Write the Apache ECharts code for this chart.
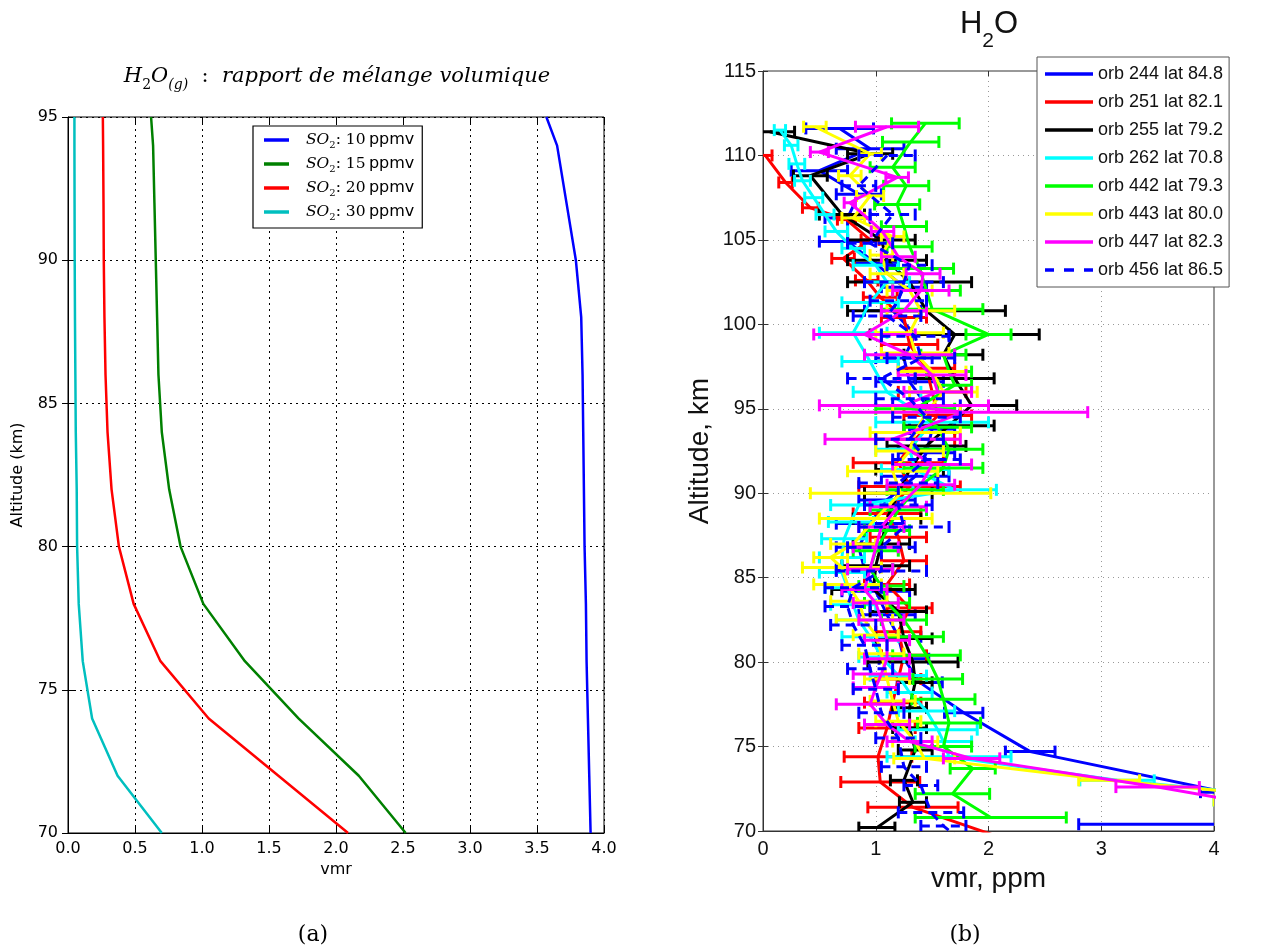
<!DOCTYPE html>
<html><head><meta charset="utf-8">
<script src="https://cdn.jsdelivr.net/npm/echarts@6/dist/echarts.min.js"></script>
<style>html,body{margin:0;padding:0;background:#fff}#c{width:1268px;height:949px}</style>
</head><body><div id="c"></div>
<script>
// ---------- Panel (a): model profiles ----------
const altLeft = [70, 72, 74, 76, 78, 80, 82, 84, 86, 88, 90, 92, 94, 95];
const so2_10 = [3.90, 3.89, 3.88, 3.87, 3.865, 3.855, 3.85, 3.845, 3.84, 3.83, 3.79, 3.72, 3.65, 3.57];
const so2_15 = [2.52, 2.17, 1.72, 1.32, 1.01, 0.84, 0.755, 0.70, 0.675, 0.665, 0.655, 0.645, 0.635, 0.62];
const so2_20 = [2.09, 1.57, 1.05, 0.69, 0.49, 0.38, 0.325, 0.295, 0.28, 0.272, 0.267, 0.265, 0.262, 0.26];
const so2_30 = [0.70, 0.37, 0.18, 0.11, 0.08, 0.068, 0.065, 0.058, 0.055, 0.052, 0.05, 0.049, 0.048, 0.048];
const leftNames = ['SO2: 10 ppmv', 'SO2: 15 ppmv', 'SO2: 20 ppmv', 'SO2: 30 ppmv'];
const leftColors = ['#0000ff', '#008000', '#ff0000', '#00bfbf'];
const leftX = [0, 0.5, 1.0, 1.5, 2.0, 2.5, 3.0, 3.5, 4.0];
const leftY = [70, 75, 80, 85, 90, 95];

// ---------- Panel (b): SOIR profiles ----------
const alt244 = [70.4, 72.3, 74.7, 77.0, 78.8, 80.2, 81.5, 82.8, 84.2, 85.5, 86.8, 88.2, 89.6, 91.0, 92.4, 93.8, 95.2, 96.6, 98.0, 99.4, 100.8, 102.2, 103.6, 104.9, 106.3, 107.7, 109.1, 110.4, 111.6];
const vmr244 = [4.3, 4.1, 2.37, 1.78, 1.39, 1.25, 1.2, 1.1, 1.0, 0.9, 0.85, 0.95, 1.1, 1.35, 1.45, 1.5, 1.45, 1.3, 1.25, 1.35, 1.15, 1.25, 1.0, 0.75, 0.75, 0.85, 0.5, 0.95, 0.68];
const err244 = [1.5, 0.22, 0.22, 0.17, 0.2, 0.22, 0.2, 0.25, 0.3, 0.25, 0.2, 0.3, 0.25, 0.3, 0.25, 0.2, 0.3, 0.3, 0.25, 0.3, 0.25, 0.2, 0.2, 0.25, 0.2, 0.2, 0.25, 0.3, 0.3];

const alt251 = [69.4, 71.4, 72.9, 74.4, 76.1, 77.6, 79.0, 80.4, 81.8, 83.2, 84.6, 86.0, 87.4, 88.8, 90.4, 91.8, 93.2, 94.6, 96.0, 97.4, 98.8, 100.4, 101.6, 102.6, 103.9, 105.0, 106.2, 106.9, 108.4, 110.0];
const vmr251 = [2.2, 1.33, 1.04, 1.02, 1.1, 1.15, 1.2, 1.25, 1.2, 1.3, 1.1, 1.25, 1.2, 1.1, 1.3, 1.2, 1.35, 1.55, 1.5, 1.45, 1.3, 1.25, 1.04, 0.92, 0.71, 0.95, 0.74, 0.42, 0.2, 0.02];
const err251 = [0.3, 0.4, 0.35, 0.3, 0.25, 0.25, 0.2, 0.2, 0.2, 0.2, 0.2, 0.2, 0.25, 0.3, 0.45, 0.4, 0.35, 0.3, 0.3, 0.25, 0.25, 0.2, 0.15, 0.1, 0.1, 0.08, 0.08, 0.07, 0.06, 0.06];

const alt255 = [70.2, 71.7, 73.0, 74.8, 76.1, 77.3, 78.8, 80.0, 81.4, 83.0, 84.3, 85.7, 87.0, 88.5, 90.0, 91.4, 92.8, 94.0, 95.2, 96.8, 98.2, 99.4, 100.8, 102.5, 103.8, 105.0, 106.5, 108.8, 110.1, 111.4];
const vmr255 = [1.01, 1.33, 1.25, 1.35, 1.3, 1.3, 1.35, 1.33, 1.25, 1.2, 0.98, 1.0, 1.05, 1.1, 1.2, 1.3, 1.45, 1.65, 1.85, 1.7, 1.6, 1.7, 1.45, 1.3, 1.1, 1.05, 0.7, 0.42, 0.95, 0.06];
const err255 = [0.16, 0.12, 0.12, 0.15, 0.15, 0.15, 0.15, 0.4, 0.25, 0.25, 0.37, 0.3, 0.25, 0.3, 0.3, 0.3, 0.35, 0.4, 0.4, 0.35, 0.35, 0.75, 0.7, 0.55, 0.35, 0.3, 0.2, 0.15, 0.2, 0.22];

const alt262 = [71.8, 73.0, 74.4, 75.3, 76.0, 77.1, 78.2, 79.2, 80.3, 81.5, 82.5, 83.4, 84.4, 85.3, 86.2, 87.3, 88.3, 89.3, 90.2, 91.4, 92.6, 94.2, 96.0, 97.8, 99.5, 101.3, 102.5, 103.5, 104.5, 105.5, 106.5, 107.5, 108.5, 109.5, 110.6, 111.5];
const vmr262 = [5.0, 3.14, 1.65, 1.6, 1.55, 1.45, 1.3, 1.2, 1.05, 0.95, 0.85, 0.8, 0.75, 0.7, 0.7, 0.72, 0.78, 0.85, 1.7, 1.35, 1.3, 1.5, 1.1, 0.95, 0.8, 0.95, 1.1, 1.0, 0.8, 0.65, 0.55, 0.45, 0.35, 0.3, 0.25, 0.15];
const err262 = [1.0, 0.33, 0.55, 0.25, 0.35, 0.25, 0.2, 0.25, 0.2, 0.25, 0.2, 0.2, 0.2, 0.2, 0.2, 0.2, 0.2, 0.25, 0.37, 0.3, 0.3, 0.5, 0.3, 0.25, 0.3, 0.25, 0.2, 0.2, 0.1, 0.1, 0.08, 0.08, 0.07, 0.07, 0.06, 0.05];

const alt442 = [70.8, 72.2, 73.7, 75.0, 76.4, 77.8, 79.0, 80.4, 81.5, 82.5, 83.5, 84.5, 85.5, 86.6, 87.8, 89.0, 90.2, 91.5, 92.6, 93.9, 95.0, 96.4, 97.2, 98.2, 99.4, 100.9, 102.0, 103.3, 104.6, 105.8, 107.1, 108.2, 109.3, 110.8, 111.9];
const vmr442 = [2.02, 1.68, 1.86, 1.6, 1.65, 1.6, 1.55, 1.45, 1.35, 1.25, 1.1, 1.05, 0.95, 1.0, 1.1, 1.2, 1.35, 1.6, 1.65, 1.55, 1.35, 1.7, 1.65, 1.6, 2.0, 1.5, 1.45, 1.39, 1.3, 1.25, 1.19, 1.27, 1.15, 1.31, 1.44];
const err442 = [0.67, 0.33, 0.2, 0.25, 0.28, 0.28, 0.22, 0.3, 0.25, 0.2, 0.2, 0.2, 0.2, 0.2, 0.2, 0.25, 0.25, 0.35, 0.3, 0.3, 0.35, 0.15, 0.2, 0.2, 0.2, 0.45, 0.3, 0.3, 0.2, 0.2, 0.2, 0.2, 0.2, 0.25, 0.3];

const alt443 = [71.8, 73.0, 74.3, 75.3, 76.5, 77.7, 79.0, 80.5, 81.6, 82.5, 83.6, 84.6, 85.6, 86.2, 87.0, 88.5, 90.0, 91.3, 92.5, 93.6, 94.8, 96.0, 97.2, 98.3, 99.5, 100.8, 102.0, 103.0, 104.1, 105.2, 106.3, 107.6, 108.8, 110.1, 111.7];
const vmr443 = [5.0, 3.07, 1.43, 1.35, 1.2, 1.15, 1.1, 1.05, 1.0, 0.9, 0.85, 0.75, 0.7, 0.6, 0.8, 1.0, 1.22, 1.15, 1.3, 1.35, 1.45, 1.6, 1.5, 1.35, 1.3, 1.4, 1.3, 1.1, 1.05, 1.15, 0.8, 0.95, 0.77, 0.95, 0.46];
const err443 = [1.0, 0.27, 0.27, 0.2, 0.2, 0.2, 0.2, 0.2, 0.2, 0.25, 0.25, 0.3, 0.35, 0.15, 0.2, 0.5, 0.8, 0.4, 0.3, 0.4, 0.3, 0.3, 0.3, 0.3, 0.3, 0.3, 0.2, 0.15, 0.1, 0.1, 0.1, 0.12, 0.1, 0.1, 0.1];

const alt447 = [71.2, 72.6, 74.3, 75.3, 76.3, 77.5, 78.5, 79.3, 80.2, 81.3, 82.5, 83.5, 84.3, 85.5, 86.8, 88.0, 89.2, 90.5, 91.7, 93.2, 94.8, 95.2, 96.0, 97.0, 98.2, 99.4, 100.8, 102.0, 103.0, 104.0, 105.5, 107.2, 108.7, 110.2, 111.7];
const vmr447 = [4.7, 3.5, 1.85, 1.3, 1.1, 0.95, 1.0, 1.05, 1.1, 1.1, 1.05, 1.0, 0.9, 0.95, 1.0, 1.05, 1.2, 1.4, 1.5, 1.15, 1.78, 1.25, 1.55, 1.5, 1.3, 0.9, 1.25, 1.4, 1.42, 1.2, 1.06, 0.77, 1.19, 0.5, 1.1];
const err447 = [0.5, 0.37, 0.25, 0.2, 0.2, 0.3, 0.2, 0.25, 0.2, 0.2, 0.2, 0.2, 0.2, 0.2, 0.2, 0.2, 0.25, 0.3, 0.35, 0.6, 1.1, 0.75, 0.3, 0.3, 0.4, 0.45, 0.2, 0.25, 0.15, 0.15, 0.1, 0.05, 0.1, 0.08, 0.28];

const alt456 = [69.5, 70.3, 71.1, 72.7, 73.8, 75.5, 77.0, 78.4, 79.6, 81.0, 82.2, 83.3, 84.4, 85.4, 86.8, 88.0, 89.3, 90.6, 92.0, 93.2, 94.5, 95.6, 96.8, 98.0, 99.3, 100.5, 101.4, 102.5, 103.5, 104.8, 106.5, 108.2, 110.0];
const vmr456 = [1.75, 1.6, 1.49, 1.4, 1.25, 1.2, 1.05, 1.0, 0.95, 0.9, 0.8, 0.75, 0.8, 1.05, 1.05, 1.25, 1.2, 1.2, 1.45, 1.3, 1.45, 1.3, 1.05, 1.4, 1.35, 1.1, 1.2, 1.25, 1.3, 0.95, 1.15, 0.85, 1.1];
const err456 = [0.2, 0.2, 0.29, 0.15, 0.2, 0.2, 0.2, 0.2, 0.2, 0.2, 0.2, 0.2, 0.25, 0.4, 0.3, 0.4, 0.3, 0.35, 0.3, 0.3, 0.3, 0.3, 0.3, 0.3, 0.3, 0.3, 0.25, 0.35, 0.2, 0.2, 0.2, 0.15, 0.25];

const orbNames = ['orb 244 lat 84.8', 'orb 251 lat 82.1', 'orb 255 lat 79.2', 'orb 262 lat 70.8', 'orb 442 lat 79.3', 'orb 443 lat 80.0', 'orb 447 lat 82.3', 'orb 456 lat 86.5'];
const orbColors = ['#0000ff', '#ff0000', '#000000', '#00ffff', '#00ff00', '#ffff00', '#ff00ff', '#0000ff'];
const rightX = [0, 1, 2, 3, 4];
const rightY = [70, 75, 80, 85, 90, 95, 100, 105, 110, 115];

const orbData = [
  [alt244, vmr244, err244], [alt251, vmr251, err251], [alt255, vmr255, err255], [alt262, vmr262, err262],
  [alt442, vmr442, err442], [alt443, vmr443, err443], [alt447, vmr447, err447], [alt456, vmr456, err456]
];

const LF = 'DejaVu Sans';
const RF = 'Liberation Sans';
const RW = 3;

const series = [];
const leftVals = [so2_10, so2_15, so2_20, so2_30];
leftVals.forEach((v, i) => {
  series.push({
    type: 'line', name: leftNames[i], xAxisIndex: 0, yAxisIndex: 0,
    data: altLeft.map((a, k) => [v[k], a]), symbol: 'none', showSymbol: false,
    lineStyle: {color: leftColors[i], width: 2.5}, itemStyle: {color: leftColors[i]},
    silent: true, z: 5
  });
});

orbData.forEach((d, i) => {
  const [alt, vmr, err] = d;
  const dashed = i === 7;
  series.push({
    type: 'line', name: orbNames[i], xAxisIndex: 2, yAxisIndex: 2,
    data: alt.map((a, k) => [vmr[k], a]), symbol: 'none', showSymbol: false,
    lineStyle: {color: orbColors[i], width: RW, type: dashed ? [9, 6] : 'solid'},
    itemStyle: {color: orbColors[i]}, silent: true, z: 10 + 2 * i, clip: true
  });
  series.push({
    type: 'custom', name: 'eb' + i, xAxisIndex: 2, yAxisIndex: 2, silent: true, z: 11 + 2 * i, clip: true,
    data: alt.map((a, k) => [vmr[k], a, vmr[k] - err[k], vmr[k] + err[k]]),
    encode: {x: 0, y: 1},
    renderItem: function (params, api) {
      const y = api.value(1);
      const l = api.coord([api.value(2), y]);
      const r = api.coord([api.value(3), y]);
      const h = 6;
      const st = {stroke: orbColors[i], lineWidth: RW, lineDash: dashed ? [9, 6] : null};
      const cst = {stroke: orbColors[i], lineWidth: RW};
      return {type: 'group', children: [
        {type: 'line', shape: {x1: l[0], y1: l[1], x2: r[0], y2: r[1]}, style: st},
        {type: 'line', shape: {x1: l[0], y1: l[1] - h, x2: l[0], y2: l[1] + h}, style: cst},
        {type: 'line', shape: {x1: r[0], y1: r[1] - h, x2: r[0], y2: r[1] + h}, style: cst}
      ]};
    }
  });
});

const solidIcon = 'path://M0,0 L48,0 L48,3.5 L0,3.5 Z';
const dashIcon = 'path://M0,0 L9,0 L9,3.5 L0,3.5 Z M19,0 L29,0 L29,3.5 L19,3.5 Z M39,0 L48,0 L48,3.5 L39,3.5 Z';
const leftIcon = 'path://M0,0 L25,0 L25,3.5 L0,3.5 Z';

const leftSplit = {show: true, lineStyle: {color: '#000', width: 1, type: [2, 4]}};
const rightSplit = {show: true, lineStyle: {color: '#999', width: 1, type: [1, 4]}};

const option = {
  animation: false,
  backgroundColor: '#fff',
  grid: [
    {left: 68, top: 117, width: 536, height: 716, show: true, borderColor: '#000', borderWidth: 1, backgroundColor: 'transparent'},
    {left: 763, top: 71, width: 451, height: 760, show: true, borderColor: '#333', borderWidth: 1, backgroundColor: 'transparent'}
  ],
  xAxis: [
    {gridIndex: 0, type: 'value', min: 0, max: 4, interval: 0.5,
     axisLine: {show: true, lineStyle: {color: '#000'}}, axisTick: {inside: true, length: 6, lineStyle: {color: '#000'}},
     axisLabel: {formatter: v => v.toFixed(1), fontFamily: LF, fontSize: 16, color: '#000', margin: 8},
     splitLine: leftSplit,
     name: 'vmr', nameLocation: 'middle', nameGap: 16, nameTextStyle: {fontFamily: LF, fontSize: 16, color: '#000'}},
    {gridIndex: 0, type: 'value', min: 0, max: 4, interval: 0.5, position: 'top',
     axisLine: {show: false}, axisTick: {inside: true, length: 6, lineStyle: {color: '#000'}}, axisLabel: {show: false}, splitLine: {show: false}},
    {gridIndex: 1, type: 'value', min: 0, max: 4, interval: 1,
     axisLine: {show: true, lineStyle: {color: '#333'}}, axisTick: {inside: true, length: 5, lineStyle: {color: '#333'}},
     axisLabel: {fontFamily: RF, fontSize: 20, color: '#111', margin: 8},
     splitLine: rightSplit,
     name: 'vmr, ppm', nameLocation: 'middle', nameGap: 34, nameTextStyle: {fontFamily: RF, fontSize: 28, color: '#111'}},
    {gridIndex: 1, type: 'value', min: 0, max: 4, interval: 1, position: 'top',
     axisLine: {show: false}, axisTick: {inside: true, length: 5, lineStyle: {color: '#333'}}, axisLabel: {show: false}, splitLine: {show: false}}
  ],
  yAxis: [
    {gridIndex: 0, type: 'value', min: 70, max: 95, interval: 5,
     axisLine: {show: true, lineStyle: {color: '#000'}}, axisTick: {inside: true, length: 6, lineStyle: {color: '#000'}},
     axisLabel: {fontFamily: LF, fontSize: 16, color: '#000', margin: 10},
     splitLine: leftSplit,
     name: 'Altitude (km)', nameLocation: 'middle', nameGap: 42, nameTextStyle: {fontFamily: LF, fontSize: 16, color: '#000'}},
    {gridIndex: 0, type: 'value', min: 70, max: 95, interval: 5, position: 'right',
     axisLine: {show: false}, axisTick: {inside: true, length: 6, lineStyle: {color: '#000'}}, axisLabel: {show: false}, splitLine: {show: false}},
    {gridIndex: 1, type: 'value', min: 70, max: 115, interval: 5,
     axisLine: {show: true, lineStyle: {color: '#333'}}, axisTick: {inside: true, length: 5, lineStyle: {color: '#333'}},
     axisLabel: {fontFamily: RF, fontSize: 20, color: '#111', margin: 7},
     splitLine: rightSplit,
     name: 'Altitude, km', nameLocation: 'middle', nameGap: 49, nameTextStyle: {fontFamily: RF, fontSize: 28, color: '#111'}},
    {gridIndex: 1, type: 'value', min: 70, max: 115, interval: 5, position: 'right',
     axisLine: {show: false}, axisTick: {inside: true, length: 5, lineStyle: {color: '#333'}}, axisLabel: {show: false}, splitLine: {show: false}}
  ],
  legend: [
    {data: leftNames.map(n => ({name: n, icon: leftIcon})), orient: 'vertical', left: 253, top: 126, padding: [6, 8, 6, 11], itemWidth: 25, itemHeight: 3.5, itemGap: 6,
     backgroundColor: '#fff', borderColor: '#000', borderWidth: 1.2, selectedMode: false,
     formatter: n => '{p|}{i|SO}{s|2}{m|: ' + n.split(': ')[1].split(' ')[0] + '} {n|ppmv}',
     textStyle: {color: '#000', rich: {
       p: {width: 12},
       i: {fontFamily: 'DejaVu Serif', fontStyle: 'italic', fontSize: 15.5, lineHeight: 20, verticalAlign: 'middle'},
       s: {fontFamily: 'DejaVu Serif', fontSize: 10, lineHeight: 12, verticalAlign: 'bottom'},
       m: {fontFamily: 'DejaVu Serif', fontSize: 15.5, lineHeight: 20, verticalAlign: 'middle'},
       n: {fontFamily: LF, fontSize: 16, lineHeight: 20, verticalAlign: 'middle'}
     }}},
    {data: orbNames.map((n, i) => ({name: n, icon: i === 7 ? dashIcon : solidIcon})), orient: 'vertical', left: 1037, top: 57, padding: [7, 6, 7, 8], itemWidth: 48, itemHeight: 3.5, itemGap: 8,
     backgroundColor: '#fff', borderColor: '#555', borderWidth: 1, selectedMode: false,
     textStyle: {fontFamily: RF, fontSize: 18, color: '#111', lineHeight: 20}}
  ],
  graphic: [
    {type: 'text', x: 337, y: 77, z: 100, style: {
      text: '{i|H}{s|2}{i|O}{g|(g)}{m|  :  }{i|rapport de mélange volumique}',
      align: 'center', verticalAlign: 'middle',
      rich: {
        i: {fontFamily: 'DejaVu Serif', fontStyle: 'italic', fontSize: 21, lineHeight: 30, verticalAlign: 'middle', fill: '#000'},
        m: {fontFamily: 'DejaVu Serif', fontSize: 21, lineHeight: 30, verticalAlign: 'middle', fill: '#000'},
        s: {fontFamily: 'DejaVu Serif', fontSize: 14, lineHeight: 16, verticalAlign: 'bottom', fill: '#000'},
        g: {fontFamily: 'DejaVu Serif', fontStyle: 'italic', fontSize: 14, lineHeight: 8, verticalAlign: 'bottom', fill: '#000'}
      }}},
    {type: 'text', x: 989, y: 24, z: 100, style: {
      text: '{a|H}{s|2}{a|O}', align: 'center', verticalAlign: 'middle',
      rich: {
        a: {fontFamily: RF, fontSize: 31, lineHeight: 56, verticalAlign: 'middle', fill: '#111'},
        s: {fontFamily: RF, fontSize: 21, lineHeight: 20, verticalAlign: 'bottom', fill: '#111'}
      }}},
    {type: 'text', x: 313, y: 935, style: {text: '(a)', font: '22px "DejaVu Serif"', fill: '#000', align: 'center', verticalAlign: 'middle'}},
    {type: 'text', x: 965, y: 935, style: {text: '(b)', font: '22px "DejaVu Serif"', fill: '#000', align: 'center', verticalAlign: 'middle'}}
  ],
  series: series
};

const chart = echarts.init(document.getElementById('c'), null, {renderer: 'canvas'});
chart.setOption(option);
</script>
</body></html>
